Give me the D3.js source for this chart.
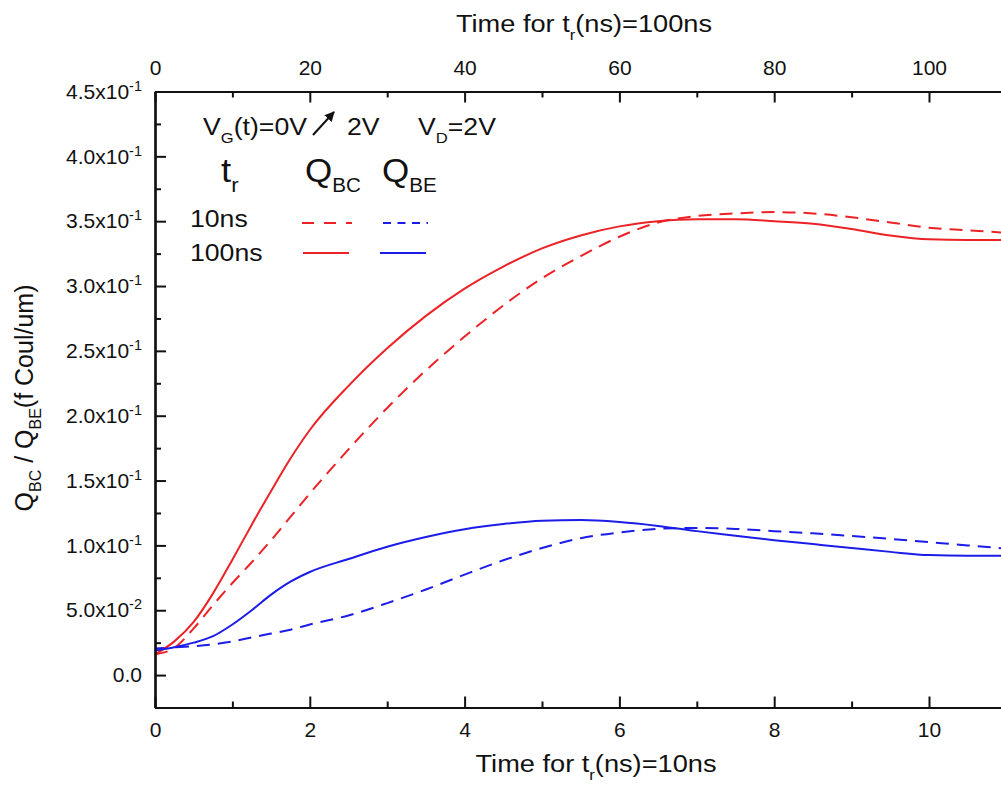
<!DOCTYPE html>
<html>
<head>
<meta charset="utf-8">
<script src="https://cdn.jsdelivr.net/npm/d3@7/dist/d3.min.js"></script>
<style>
  body { margin: 0; background: #fff; }
  svg { display: block; font-family: "Liberation Sans", Arial, sans-serif; }
</style>
</head>
<body>
<svg id="chart" width="1001" height="792"></svg>
<script>
// Sample times on the t_r = 10 ns axis (ns); top axis is the same run at t_r = 100 ns
const time = [0, 0.25, 0.5, 0.75, 1, 1.25, 1.5, 1.75, 2, 2.5, 3, 3.5, 4, 4.5, 5, 5.5,
              6, 6.5, 7, 7.5, 8, 8.5, 9, 9.5, 10, 10.5, 11];

// Charges (f Coul/um)
const qbc10  = [0.016, 0.021, 0.036, 0.054, 0.071, 0.087, 0.104, 0.122, 0.140, 0.174, 0.206,
                0.235, 0.261, 0.285, 0.306, 0.323, 0.338, 0.349, 0.354, 0.356, 0.357, 0.356,
                0.353, 0.349, 0.345, 0.343, 0.341];
const qbe10  = [0.0205, 0.0213, 0.0223, 0.0237, 0.026, 0.029, 0.032, 0.035, 0.039, 0.046, 0.0555,
                0.066, 0.0775, 0.0885, 0.098, 0.1055, 0.110, 0.1128, 0.1135, 0.1127, 0.111, 0.1093,
                0.1073, 0.105, 0.1025, 0.100, 0.0975];
const qbc100 = [0.016, 0.026, 0.041, 0.063, 0.089, 0.116, 0.142, 0.167, 0.189, 0.223, 0.252,
                0.277, 0.298, 0.315, 0.329, 0.339, 0.346, 0.350, 0.3515, 0.3515, 0.350, 0.348,
                0.344, 0.339, 0.336, 0.3355, 0.3355];
const qbe100 = [0.019, 0.0215, 0.025, 0.030, 0.039, 0.050, 0.062, 0.072, 0.0795, 0.0895, 0.099,
                0.1065, 0.1125, 0.1165, 0.119, 0.1195, 0.118, 0.115, 0.111, 0.1075, 0.104, 0.101,
                0.098, 0.095, 0.0925, 0.092, 0.092];

// Tick values
const bottomTicks = [0, 2, 4, 6, 8, 10];
const bottomMinor = [1, 3, 5, 7, 9];
const topTicks = [0, 20, 40, 60, 80, 100];
const topMinor = [10, 30, 50, 70, 90];
const yTicks = [0, 0.05, 0.10, 0.15, 0.20, 0.25, 0.30, 0.35, 0.40, 0.45];
const yMinor = [-0.025, 0.025, 0.075, 0.125, 0.175, 0.225, 0.275, 0.325, 0.375, 0.425];

const series = [
  { name: "QBC 10ns",  values: qbc10,  color: "#ec2226", dash: "13,8" },
  { name: "QBE 10ns",  values: qbe10,  color: "#1c1ce8", dash: "13,8" },
  { name: "QBC 100ns", values: qbc100, color: "#ec2226", dash: null },
  { name: "QBE 100ns", values: qbe100, color: "#1c1ce8", dash: null }
];

const svg = d3.select("#chart");
const plotLeft = 155, plotTop = 91.5, plotBottom = 707.5;
const plotRight = plotLeft + 11 * 77.4;

const x = d3.scaleLinear().domain([0, 11]).range([plotLeft, plotRight]);
const xTop = d3.scaleLinear().domain([0, 110]).range([plotLeft, plotRight]);
const y = d3.scaleLinear().domain([-0.025, 0.45]).range([plotBottom, plotTop]);

const defs = svg.append("defs");
defs.append("clipPath").attr("id", "plot-clip")
  .append("rect").attr("x", plotLeft).attr("y", plotTop)
  .attr("width", plotRight - plotLeft).attr("height", plotBottom - plotTop);

// Curves
const line = d3.line()
  .x((d, i) => x(time[i]))
  .y(d => y(d))
  .curve(d3.curveMonotoneX);

svg.append("g").attr("clip-path", "url(#plot-clip)")
  .selectAll("path").data(series).join("path")
  .attr("d", s => line(s.values))
  .attr("fill", "none")
  .attr("stroke", s => s.color)
  .attr("stroke-width", 2)
  .attr("stroke-dasharray", s => s.dash);

// Axes
const tickFont = 21;
function styleAxis(g) {
  g.select(".domain").attr("stroke", "#111").attr("stroke-width", 2.2);
  g.selectAll(".tick line").attr("stroke", "#111").attr("stroke-width", 2);
  g.selectAll(".tick text").attr("fill", "#111").attr("font-size", tickFont)
    .attr("font-family", "\"Liberation Sans\", Arial, sans-serif");
}

// bottom
svg.append("g").attr("transform", `translate(0,${plotBottom})`)
  .call(d3.axisBottom(x).tickValues(bottomTicks).tickSizeInner(-11).tickSizeOuter(0)
    .tickPadding(14.5).tickFormat(d3.format("d")))
  .call(styleAxis);
svg.append("g").attr("transform", `translate(0,${plotBottom})`)
  .call(d3.axisBottom(x).tickValues(bottomMinor).tickSizeInner(-6).tickSizeOuter(0).tickFormat(""))
  .call(styleAxis);

// top
svg.append("g").attr("transform", `translate(0,${plotTop})`)
  .call(d3.axisTop(xTop).tickValues(topTicks).tickSizeInner(-11).tickSizeOuter(0)
    .tickPadding(16.5).tickFormat(d3.format("d")))
  .call(styleAxis);
svg.append("g").attr("transform", `translate(0,${plotTop})`)
  .call(d3.axisTop(xTop).tickValues(topMinor).tickSizeInner(-6).tickSizeOuter(0).tickFormat(""))
  .call(styleAxis);

// left
const yAxisG = svg.append("g").attr("transform", `translate(${plotLeft},0)`)
  .call(d3.axisLeft(y).tickValues(yTicks).tickSizeInner(-11).tickSizeOuter(0).tickPadding(13))
  .call(styleAxis);
svg.append("g").attr("transform", `translate(${plotLeft},0)`)
  .call(d3.axisLeft(y).tickValues(yMinor).tickSizeInner(-6).tickSizeOuter(0).tickFormat(""))
  .call(styleAxis);

// scientific labels with superscript exponents
yAxisG.selectAll(".tick text").each(function(d) {
  const t = d3.select(this).text("");
  if (d === 0) { t.text("0.0"); return; }
  const exp = Math.floor(Math.log10(d) + 1e-9);
  const mant = (d / Math.pow(10, exp)).toFixed(1);
  t.append("tspan").text(mant + "x10");
  t.append("tspan").attr("font-size", 14.5).attr("dy", -8).text(String(exp));
});

// Text with subscripts, optionally widened horizontally
function richText(parent, px, py, parts, opts) {
  const o = Object.assign({ size: 24, sx: 1, anchor: "start", rotate: 0 }, opts);
  const g = parent.append("g")
    .attr("transform", `translate(${px},${py}) rotate(${o.rotate}) scale(${o.sx},1)`);
  const t = g.append("text").attr("font-size", o.size)
    .attr("text-anchor", o.anchor).attr("fill", "#111");
  let shift = 0;
  parts.forEach(p => {
    const ts = t.append("tspan");
    if (p.sub !== undefined) {
      ts.attr("font-size", p.size).attr("dy", p.dy - shift).text(p.sub);
      shift = p.dy;
    } else {
      if (shift) ts.attr("dy", -shift);
      shift = 0;
      ts.text(p.t);
    }
  });
  return t;
}

// Axis titles
richText(svg, 596, 772,
  [{ t: "Time for t" }, { sub: "r", dy: 8, size: 15 }, { t: "(ns)=10ns" }],
  { size: 24.5, sx: 1.11, anchor: "middle" });
richText(svg, 584, 32,
  [{ t: "Time for t" }, { sub: "r", dy: 8, size: 15 }, { t: "(ns)=100ns" }],
  { size: 24.5, sx: 1.11, anchor: "middle" });
richText(svg, 33, 398,
  [{ t: "Q" }, { sub: "BC", dy: 8, size: 16 }, { t: " / Q" }, { sub: "BE", dy: 8, size: 16 },
   { t: "(f Coul/um)" }],
  { size: 25, anchor: "middle", rotate: -90 });

// Annotation and legend
const leg = svg.append("g");
richText(leg, 203, 135, [{ t: "V" }, { sub: "G", dy: 8, size: 15 }, { t: "(t)=0V" }],
  { size: 24, sx: 1.11 });
richText(leg, 347, 135, [{ t: "2V" }], { size: 24, sx: 1.11 });
richText(leg, 418, 135, [{ t: "V" }, { sub: "D", dy: 8, size: 15 }, { t: "=2V" }],
  { size: 24, sx: 1.11 });

// rising-gate arrow
defs.append("marker").attr("id", "arrowhead")
  .attr("viewBox", "0 0 10 10").attr("refX", 9).attr("refY", 5)
  .attr("markerWidth", 5).attr("markerHeight", 5).attr("orient", "auto")
  .append("path").attr("d", "M0,0 L10,5 L0,10 Z").attr("fill", "#111");
leg.append("line").attr("x1", 313).attr("y1", 135).attr("x2", 334).attr("y2", 112)
  .attr("stroke", "#111").attr("stroke-width", 2).attr("marker-end", "url(#arrowhead)");

richText(leg, 221, 182, [{ t: "t" }, { sub: "r", dy: 10, size: 20 }], { size: 33, sx: 1.11 });
richText(leg, 305, 182, [{ t: "Q" }, { sub: "BC", dy: 10, size: 20 }], { size: 34, sx: 1.03 });
richText(leg, 382, 182, [{ t: "Q" }, { sub: "BE", dy: 10, size: 20 }], { size: 34, sx: 1.03 });

richText(leg, 190, 227, [{ t: "10ns" }], { size: 24, sx: 1.11 });
richText(leg, 190, 261, [{ t: "100ns" }], { size: 24, sx: 1.11 });

const legendLines = [
  { x1: 302, x2: 352, yy: 223, s: series[0], dash: "12,10" },
  { x1: 383, x2: 428, yy: 223, s: series[1], dash: "8,6.5" },
  { x1: 303, x2: 349, yy: 253, s: series[2] },
  { x1: 380, x2: 426, yy: 253, s: series[3] }
];
leg.selectAll("line.key").data(legendLines).join("line").attr("class", "key")
  .attr("x1", d => d.x1).attr("x2", d => d.x2).attr("y1", d => d.yy).attr("y2", d => d.yy)
  .attr("stroke", d => d.s.color).attr("stroke-width", 2)
  .attr("stroke-dasharray", d => d.dash || d.s.dash);
</script>
</body>
</html>
